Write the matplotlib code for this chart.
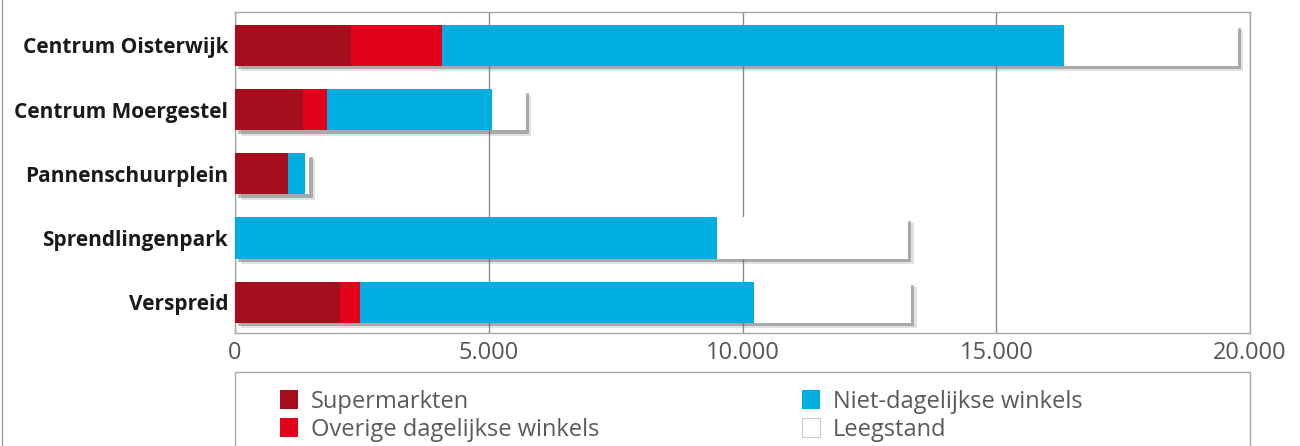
import numpy as np
import matplotlib
matplotlib.use("Agg")
import matplotlib.pyplot as plt
import matplotlib.patheffects as pe
from matplotlib.patches import Rectangle
from matplotlib.ticker import FuncFormatter

# data (m2 winkelvloeroppervlak)
locaties = ['Centrum Oisterwijk', 'Centrum Moergestel', 'Pannenschuurplein',
            'Sprendlingenpark', 'Verspreid']
supermarkten = [2290, 1340, 1040, 0, 2070]
overige_dagelijks = [1790, 470, 0, 0, 390]
niet_dagelijks = [12250, 3250, 340, 9500, 7770]
leegstand = [3430, 670, 80, 3760, 3090]

series_names = ['Supermarkten', 'Overige dagelijkse winkels',
                'Niet-dagelijkse winkels', 'Leegstand']
series_colors = ['#A50E1C', '#E3001B', '#00AEE2', '#FFFFFF']
x_ticks = [0, 5000, 10000, 15000, 20000]

plt.rcParams['font.family'] = ['Open Sans', 'DejaVu Sans']

W, H = 1300, 446
fig = plt.figure(figsize=(W / 100, H / 100), dpi=100)
ax = fig.add_axes([235 / W, 1 - 333 / H, (1250 - 235) / W, (333 - 12) / H])

y = np.arange(len(locaties))
left = np.zeros(len(locaties))
data = [supermarkten, overige_dagelijks, niet_dagelijks, leegstand]
handles = []
for vals, name, col in zip(data, series_names, series_colors):
    vals = np.array(vals, dtype=float)
    bars = ax.barh(y, vals, left=left, height=0.64, color=col, label=name,
                   linewidth=0, zorder=3)
    handles.append(bars)
    left = left + vals

# soft drop shadow of the whole bar, behind the segments
tot = ax.barh(y, left, height=0.64, color='white', linewidth=0, zorder=2)
for b in tot:
    b.set_path_effects([
        pe.SimplePatchShadow(offset=(4, -4), shadow_rgbFace='#888888', alpha=0.25),
        pe.SimplePatchShadow(offset=(2.5, -2.5), shadow_rgbFace='#666666', alpha=0.45),
    ])

ax.set_ylim(4.48, -0.52)
ax.set_xlim(0, 20000)
ax.set_xticks(x_ticks)
ax.xaxis.set_major_formatter(FuncFormatter(lambda v, p: f'{int(v):,}'.replace(',', '.')))
ax.set_yticks(y)
ax.set_yticklabels(locaties, fontsize=15, fontweight='bold', color='#1a1a1a')
ax.tick_params(axis='both', length=0)
ax.tick_params(axis='x', labelsize=17, colors='#555555', pad=6)
ax.tick_params(axis='y', pad=5)
ax.grid(axis='x', color='#8a8a8a', linewidth=1, zorder=0)
ax.set_axisbelow(True)
for s in ax.spines.values():
    s.set_color('#a8a8a8')
    s.set_linewidth(1)

# legend box, runs off the bottom of the picture
fig.add_artist(Rectangle((235 / W, -0.05), (1250 - 235) / W, 0.05 + 1 - 372 / H,
                         transform=fig.transFigure, facecolor='white',
                         edgecolor='#a8a8a8', linewidth=1))
leg = fig.legend(handles=handles, labels=series_names, ncol=2,
                 loc='upper left', bbox_to_anchor=(280 / W, 1 - 390 / H),
                 fontsize=17, labelcolor='#5a5a5a', frameon=False,
                 handlelength=0.75, handleheight=0.85, handletextpad=0.55,
                 borderpad=0, labelspacing=0.15, borderaxespad=0,
                 columnspacing=8.6)
leg.legend_handles[3].set_edgecolor('#cccccc')
leg.legend_handles[3].set_linewidth(0.8)

# thin border on the left edge of the picture
fig.add_artist(plt.Line2D([2 / W, 2 / W], [0, 1], color='#999999', linewidth=1))

fig.savefig('out.png', dpi=100)
